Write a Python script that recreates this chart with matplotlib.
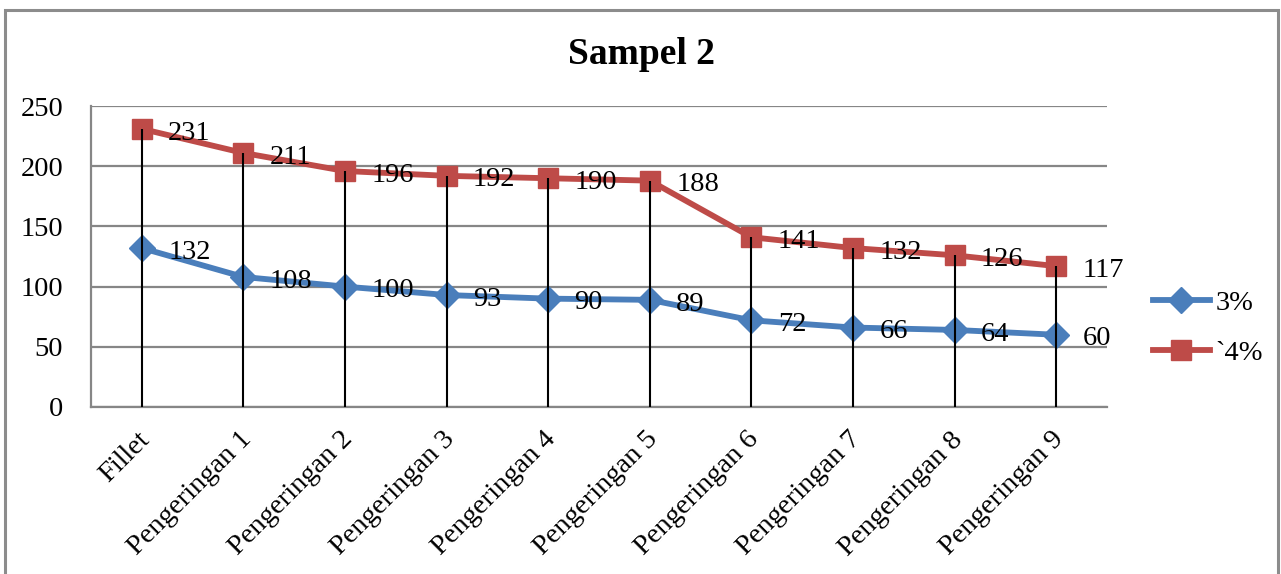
import matplotlib
matplotlib.use("Agg")
import matplotlib.pyplot as plt
from matplotlib.patches import Rectangle
from matplotlib.lines import Line2D
import matplotlib.transforms as mtransforms

categories = ["Fillet", "Pengeringan 1", "Pengeringan 2", "Pengeringan 3",
              "Pengeringan 4", "Pengeringan 5", "Pengeringan 6",
              "Pengeringan 7", "Pengeringan 8", "Pengeringan 9"]
series_3 = [132, 108, 100, 93, 90, 89, 72, 66, 64, 60]
series_4 = [231, 211, 196, 192, 190, 188, 141, 132, 126, 117]
labels = ["3%", "`4%"]
yticks = [0, 50, 100, 150, 200, 250]

BLUE = "#4A7EBB"
RED = "#BE4B48"
GRID = "#868686"
SERIF = "Liberation Serif"
FS = 20.5

W, H = 1281, 574
fig = plt.figure(figsize=(W / 100, H / 100), dpi=100)
fig.patch.set_facecolor("white")

# chart-area frame
fig.patches.append(Rectangle((5 / W, -0.05), (1278 - 5) / W, 1.05 - 10 / H,
                             transform=fig.transFigure, fill=False,
                             edgecolor="#8C8C8C", linewidth=2.2))

ax = fig.add_axes([91 / W, 1 - 407 / H, (1107 - 91) / W, (407 - 106) / H])
x = list(range(len(categories)))

ax.set_xlim(-0.5, len(categories) - 0.5)
ax.set_ylim(0, 250)
ax.set_yticks(yticks)
ax.set_yticklabels([str(v) for v in yticks], fontsize=FS, family=SERIF)
ax.yaxis.grid(True, color=GRID, linewidth=1.6)
ax.set_axisbelow(True)
ax.tick_params(axis="y", length=0, pad=20)
ax.tick_params(axis="x", length=0)

for side in ("top", "right"):
    ax.spines[side].set_visible(False)
for side in ("left", "bottom"):
    ax.spines[side].set_color(GRID)
    ax.spines[side].set_linewidth(1.6)

ax.plot(x, series_3, color=BLUE, linewidth=4.2, marker="D", markersize=13,
        markerfacecolor=BLUE, markeredgecolor=BLUE, zorder=3, label=labels[0])
ax.plot(x, series_4, color=RED, linewidth=4.2, marker="s", markersize=14,
        markerfacecolor=RED, markeredgecolor=RED, zorder=3, label=labels[1])

# drop lines from the upper series to the category axis
for xi, top in zip(x, [max(a, b) for a, b in zip(series_3, series_4)]):
    ax.plot([xi, xi], [0, top], color="black", linewidth=1.5, zorder=4,
            solid_capstyle="butt")

for values in (series_3, series_4):
    for xi, v in zip(x, values):
        ax.annotate(str(v), (xi, v), xytext=(19, -3), textcoords="offset points",
                    ha="left", va="center", fontsize=FS, family=SERIF, zorder=5)

ax.set_xticks(x)
ax.set_xticklabels(categories, fontsize=FS, family=SERIF, rotation=45,
                   ha="right", va="center", rotation_mode="anchor")
offset = mtransforms.ScaledTranslation(4 / 100, -24 / 100, fig.dpi_scale_trans)
for lbl in ax.get_xticklabels():
    lbl.set_transform(lbl.get_transform() + offset)

ax.set_title("Sampel 2", fontsize=27, fontweight="bold", family=SERIF,
             x=(642 - 91) / (1107 - 91), y=1.0, pad=30)

handles = [Line2D([], [], color=BLUE, linewidth=4.2, marker="D", markersize=13),
           Line2D([], [], color=RED, linewidth=4.2, marker="s", markersize=14)]
fig.legend(handles, labels, loc="center left",
           bbox_to_anchor=(1127 / W, 1 - 328 / H), frameon=False,
           prop={"family": SERIF, "size": FS}, handlelength=2.0,
           handletextpad=0.2, labelspacing=0.85)

fig.savefig("out.png", dpi=100, facecolor="white")
